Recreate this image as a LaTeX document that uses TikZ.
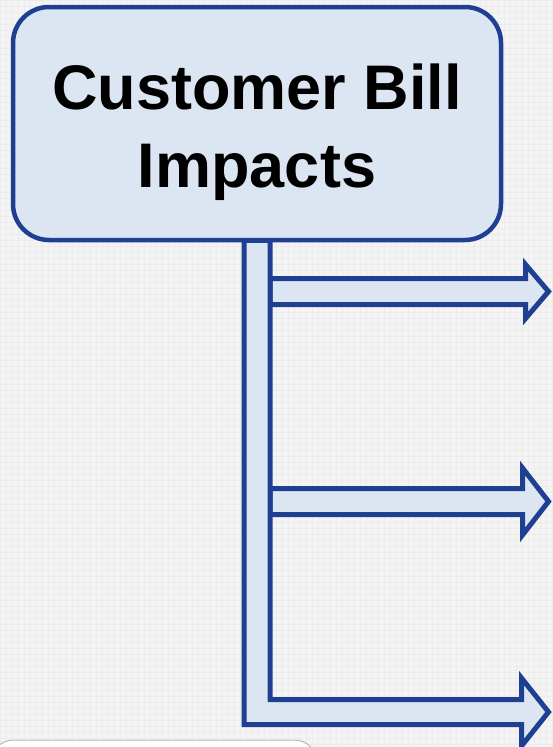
\documentclass[tikz,border=0pt]{standalone}
\usepackage{fontspec}
\setmainfont{Liberation Sans}
\usetikzlibrary{positioning}
\definecolor{billblue}{HTML}{1F3F93}
\definecolor{billfill}{HTML}{DCE6F2}
\definecolor{paper}{HTML}{F4F4F4}
\definecolor{paperline}{HTML}{ECECEC}
\pgfdeclarelayer{paperlayer}
\pgfdeclarelayer{bg}
\pgfsetlayers{paperlayer,bg,main}
\tikzset{
  titlebox/.style={draw=billblue, fill=billfill, line width=4.5pt, rounded corners=36pt,
    minimum width=488pt, minimum height=233pt, inner sep=0pt},
  titletext/.style={font=\bfseries\fontsize{63}{78}\selectfont, align=center, inner sep=0pt},
  pipe/.style={draw=billblue, fill=billfill, line width=5pt, line join=miter}
}
\begin{document}
\begin{tikzpicture}[x=1pt,y=-1pt]
\useasboundingbox (0,0) rectangle (552,747);
\clip (0,0) rectangle (552,747);
\begin{pgfonlayer}{paperlayer}
\fill[paper] (0,0) rectangle (552,747);
\draw[paperline, line width=0.5pt, step=6pt] (0,0) grid (552,747);
\end{pgfonlayer}

% title
\node[titlebox] (title) at (257,123.5) {};
\node[titletext] (label) at (257,132) {Customer Bill\\Impacts};

% branch points on the trunk
\coordinate (top) at ([yshift=2pt]title.south);
\coordinate (first) at (top |- 0,291.5);
\coordinate (second) at (top |- 0,501.5);
\coordinate (third) at (top |- 0,712);

\begin{pgfonlayer}{bg}
% first arrow
\draw[pipe] ([xshift=13pt,yshift=13pt]first) -- (525.5,278.5) -- (525.5,264.5)
  -- (548.5,291.5) -- (525.5,318.5) -- (525.5,304.5) -- ([xshift=13pt,yshift=-13pt]first) -- cycle;
% second arrow
\draw[pipe] ([xshift=13pt,yshift=13pt]second) -- (522.5,488.5) -- (522.5,468)
  -- (548.5,501.5) -- (522.5,535) -- (522.5,514.5) -- ([xshift=13pt,yshift=-13pt]second) -- cycle;
% trunk and last arrow
\draw[pipe] ([xshift=-13pt]top) -- ([xshift=-13pt,yshift=-12.5pt]third) -- (521.5,724.5)
  -- (521.5,746) -- (548.5,712) -- (521.5,678) -- (521.5,699.5)
  -- ([xshift=13pt,yshift=12.5pt]third) -- ([xshift=13pt]top) -- cycle;
\end{pgfonlayer}

\draw[gray!55, fill=white, line width=1pt, rounded corners=24pt] (-10,740) rectangle (318,800);
\end{tikzpicture}
\end{document}
